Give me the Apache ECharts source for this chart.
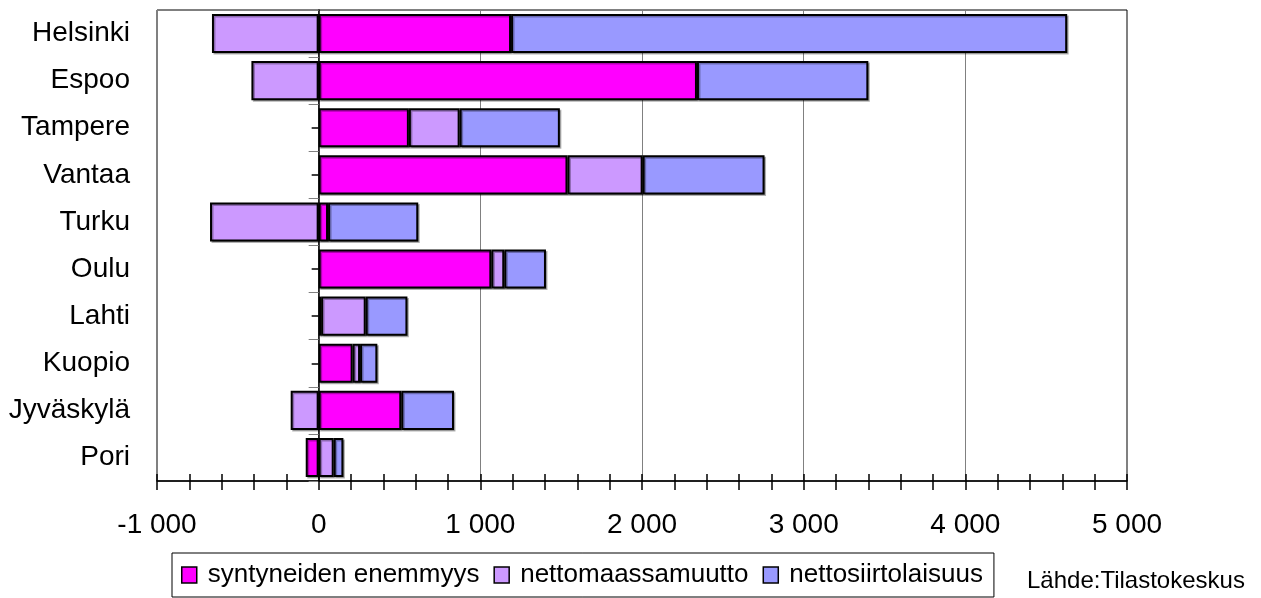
<!DOCTYPE html>
<html>
<head>
<meta charset="utf-8">
<script src="https://cdn.jsdelivr.net/npm/echarts@6/dist/echarts.min.js"></script>
<style>
html,body{margin:0;padding:0;background:#fff;}
#chart{width:1261px;height:598px;}
</style>
</head>
<body>
<div id="chart"></div>
<script>
var categories = ['Helsinki','Espoo','Tampere','Vantaa','Turku','Oulu','Lahti','Kuopio','Jyväskylä','Pori'];
var syntyneidenEnemmyys = [1190, 2340, 558, 1539, 58, 1068, 15, 210, 511, -80];
var nettomaassamuutto = [-660, -416, 314, 465, -672, 80, 276, 46, -173, 93];
var nettosiirtolaisuus = [3440, 1060, 620, 754, 558, 258, 258, 107, 326, 60];
var tickValues = [-1000, 0, 1000, 2000, 3000, 4000, 5000];
var tickLabels = ['-1 000', '0', '1 000', '2 000', '3 000', '4 000', '5 000'];
var seriesNames = ['syntyneiden enemmyys', 'nettomaassamuutto', 'nettosiirtolaisuus'];
var seriesColors = ['#FF00FF', '#CC99FF', '#9999FF'];
var sourceText = 'Lähde:Tilastokeskus';

var FONT = '"Liberation Sans", Arial, sans-serif';
var chart = echarts.init(document.getElementById('chart'), null, {renderer: 'canvas'});

function mkSeries(name, data, color) {
  return {
    name: name, type: 'bar', stack: 'total', data: data,
    xAxisIndex: 0, yAxisIndex: 0,
    barCategoryGap: '17%',
    itemStyle: {
      color: color, borderColor: '#000', borderWidth: 2,
      shadowColor: 'rgba(0,0,0,0.3)', shadowOffsetX: 1.5, shadowOffsetY: 1.5, shadowBlur: 0
    },
    emphasis: {disabled: true},
    animation: false
  };
}

var option = {
  animation: false,
  grid: {
    left: 157, right: 134, top: 10, bottom: 117,
    show: true, borderColor: '#000', borderWidth: 1, backgroundColor: 'transparent'
  },
  legend: {
    data: seriesNames,
    left: 172, top: 553,
    orient: 'horizontal',
    itemWidth: 15, itemHeight: 16, itemGap: 14,
    padding: [9, 11, 9, 9],
    borderColor: '#000', borderWidth: 1,
    icon: 'rect',
    itemStyle: {borderWidth: 1.5, borderColor: '#000', shadowBlur: 0, shadowOffsetX: 0, shadowOffsetY: 0, shadowColor: 'transparent'},
    textStyle: {fontFamily: FONT, fontSize: 26, color: '#000', padding: [0, 0, 0, 6]},
    selectedMode: false
  },
  xAxis: [
    {
      type: 'value', position: 'bottom', min: -1000, max: 5000, interval: 1000,
      axisLine: {show: true, lineStyle: {color: '#000', width: 1.5}},
      axisTick: {show: false},
      axisLabel: {
        fontFamily: FONT, fontSize: 28, color: '#000', margin: 30,
        formatter: function (v) { var i = tickValues.indexOf(v); return i >= 0 ? tickLabels[i] : ''; }
      },
      splitLine: {show: true, lineStyle: {color: '#808080', width: 1}}
    },
    {
      type: 'value', position: 'bottom', min: -1000, max: 5000, interval: 200,
      axisLine: {show: false},
      axisTick: {show: true, inside: false, length: 9, lineStyle: {color: '#000', width: 1.5}},
      axisLabel: {show: false},
      splitLine: {show: false}
    },
    {
      type: 'value', position: 'bottom', min: -1000, max: 5000, interval: 200,
      axisLine: {show: false},
      axisTick: {show: true, inside: true, length: 7, lineStyle: {color: '#000', width: 1.5}},
      axisLabel: {show: false},
      splitLine: {show: false}
    }
  ],
  yAxis: [
    {
      type: 'category', data: categories, inverse: true, position: 'left',
      axisLine: {show: false, onZero: false},
      axisTick: {show: false},
      axisLabel: {fontFamily: FONT, fontSize: 28, color: '#000', margin: 27}
    },
    {
      type: 'category', data: categories, inverse: true, position: 'left',
      axisLine: {show: true, onZero: true, onZeroAxisIndex: 0, lineStyle: {color: '#000', width: 1.5}},
      axisTick: {show: true, alignWithLabel: false, length: 10, lineStyle: {color: '#808080', width: 1}},
      axisLabel: {show: false}
    },
    {
      type: 'category', data: categories, inverse: true, position: 'left',
      axisLine: {show: false, onZero: true, onZeroAxisIndex: 0},
      axisTick: {show: true, alignWithLabel: true, length: 7, lineStyle: {color: '#000', width: 1.5}},
      axisLabel: {show: false}
    }
  ],
  series: [
    mkSeries(seriesNames[0], syntyneidenEnemmyys, seriesColors[0]),
    mkSeries(seriesNames[1], nettomaassamuutto, seriesColors[1]),
    mkSeries(seriesNames[2], nettosiirtolaisuus, seriesColors[2])
  ],
  graphic: [
    {
      type: 'text', left: 1027, top: 569,
      style: {text: sourceText, fontFamily: FONT, fontSize: 24, fill: '#000'}
    }
  ]
};
chart.setOption(option);
</script>
</body>
</html>
